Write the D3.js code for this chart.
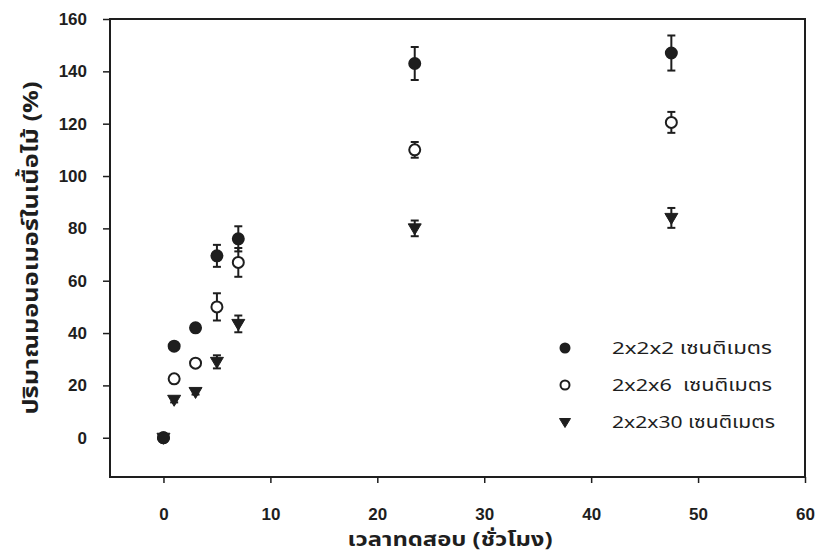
<!DOCTYPE html>
<html>
<head>
<meta charset="utf-8">
<script src="https://cdn.jsdelivr.net/npm/d3@7"></script>
<style>
	body { margin: 0; background: #fff; }
	svg text { font-family: "Liberation Sans", Arial, "Noto Sans Thai", sans-serif; }
	.thai { font-family: "Noto Sans Thai", "Noto Sans Thai Looped", "Loma", "Garuda", "Noto Sans", sans-serif !important; }
</style>
</head>
<body>
<div id="main-view"></div>
<script>
// hours of test
var hours = [0, 1, 3, 5, 7, 23.5, 47.5];

// monomer loading (%) per specimen size, with error
var cube2 = [0, 35, 42, 69.5, 76, 143, 147];
var cube2Err = [0, 1, 1, 4.2, 4.8, 6.3, 6.7];
var bar6 = [0, 22.5, 28.5, 50, 67, 110, 120.5];
var bar6Err = [0, 0.8, 1, 5.2, 5.5, 3, 4];
var bar30 = [0, 14.5, 17.5, 29, 43.5, 80, 84];
var bar30Err = [0, 1, 1, 2.5, 3.2, 3, 3.8];

var seriesNames = ["2x2x2 เซนติเมตร", "2x2x6  เซนติเมตร", "2x2x30 เซนติเมตร"];
var xTicks = [0, 10, 20, 30, 40, 50, 60];
var yTicks = [0, 20, 40, 60, 80, 100, 120, 140, 160];
var xTitle = "เวลาทดสอบ (ชั่วโมง)";
var yTitle = "ปริมาณมอนอเมอร์ในเนื้อไม้ (%)";

var width = 823,
	height = 555;
var mLeft = 110, mRight = 805, mTop = 19, mBottom = 477;
var ink = "#1e1e1e";

var svg = d3.select("#main-view").append("svg")
	.attr("width", width)
	.attr("height", height);

var x = d3.scaleLinear().domain([-5, 60]).range([mLeft, mRight]);
var y = d3.scaleLinear().domain([-15, 160]).range([mBottom, mTop]);

// frame
svg.append("rect")
	.attr("x", mLeft)
	.attr("y", mTop)
	.attr("width", mRight - mLeft)
	.attr("height", mBottom - mTop)
	.attr("fill", "none")
	.attr("stroke", ink)
	.attr("stroke-width", 2);

var xAxis = svg.append("g")
	.attr("transform", "translate(0," + mBottom + ")")
	.call(d3.axisBottom(x).tickValues(xTicks).tickSize(6).tickPadding(25));
var yAxis = svg.append("g")
	.attr("transform", "translate(" + mLeft + ",0)")
	.call(d3.axisLeft(y).tickValues(yTicks).tickSize(7).tickPadding(16));

[xAxis, yAxis].forEach(function(a) {
	a.select(".domain").remove();
	a.selectAll("line").attr("stroke", ink).attr("stroke-width", 1.5);
	a.selectAll("text")
		.attr("fill", ink)
		.style("font-size", "17px")
		.style("font-weight", "bold");
});

svg.append("text")
	.attr("class", "thai")
	.attr("x", 450)
	.attr("y", 546)
	.attr("text-anchor", "middle")
	.attr("fill", ink)
	.attr("textLength", 205)
	.attr("lengthAdjust", "spacingAndGlyphs")
	.style("font-size", "19px")
	.style("font-weight", "bold")
	.text(xTitle);

svg.append("text")
	.attr("class", "thai")
	.attr("transform", "translate(38,248) rotate(-90)")
	.attr("text-anchor", "middle")
	.attr("fill", ink)
	.attr("textLength", 333)
	.attr("lengthAdjust", "spacingAndGlyphs")
	.style("font-size", "22px")
	.style("font-weight", "bold")
	.text(yTitle);

var series = [
	{ name: seriesNames[0], values: cube2, err: cube2Err, shape: "circle", fill: ink },
	{ name: seriesNames[1], values: bar6, err: bar6Err, shape: "circle", fill: "#fff" },
	{ name: seriesNames[2], values: bar30, err: bar30Err, shape: "tri", fill: ink }
];

function marker(g, s, r) {
	if (s.shape === "circle") {
		g.append("circle")
			.attr("r", r)
			.attr("fill", s.fill)
			.attr("stroke", ink)
			.attr("stroke-width", 2);
	} else {
		g.append("path")
			.attr("d", "M" + (-r - 1) + "," + (-r + 1) + "L" + (r + 1) + "," + (-r + 1) + "L0," + (r + 1) + "Z")
			.attr("fill", s.fill)
			.attr("stroke", ink)
			.attr("stroke-width", 1);
	}
}

// draw triangles first, then open, then filled on top
[2, 1, 0].forEach(function(i) {
	var s = series[i];
	var g = svg.append("g");
	hours.forEach(function(h, j) {
		var cx = x(h), e = s.err[j], v = s.values[j];
		if (e > 0) {
			var y0 = y(v - e), y1 = y(v + e);
			g.append("line")
				.attr("x1", cx).attr("x2", cx)
				.attr("y1", y0).attr("y2", y1)
				.attr("stroke", ink).attr("stroke-width", 2);
			[y0, y1].forEach(function(yy) {
				g.append("line")
					.attr("x1", cx - 4).attr("x2", cx + 4)
					.attr("y1", yy).attr("y2", yy)
					.attr("stroke", ink).attr("stroke-width", 2);
			});
		}
		var m = g.append("g").attr("transform", "translate(" + cx + "," + y(v) + ")");
		marker(m, s, 5.5);
	});
});

// legend
var legend = svg.append("g");
var legendLen = [160, 160, 163];
series.forEach(function(s, i) {
	var ly = 348 + i * 37;
	var m = legend.append("g").attr("transform", "translate(565," + ly + ")");
	marker(m, s, 4.5);
	legend.append("text")
		.attr("class", "thai")
		.attr("x", 612)
		.attr("y", ly + 6)
		.attr("fill", ink)
		.attr("textLength", legendLen[i])
		.attr("lengthAdjust", "spacingAndGlyphs")
		.style("font-size", "17px")
		.style("white-space", "pre")
		.text(s.name);
});
</script>
</body>
</html>
